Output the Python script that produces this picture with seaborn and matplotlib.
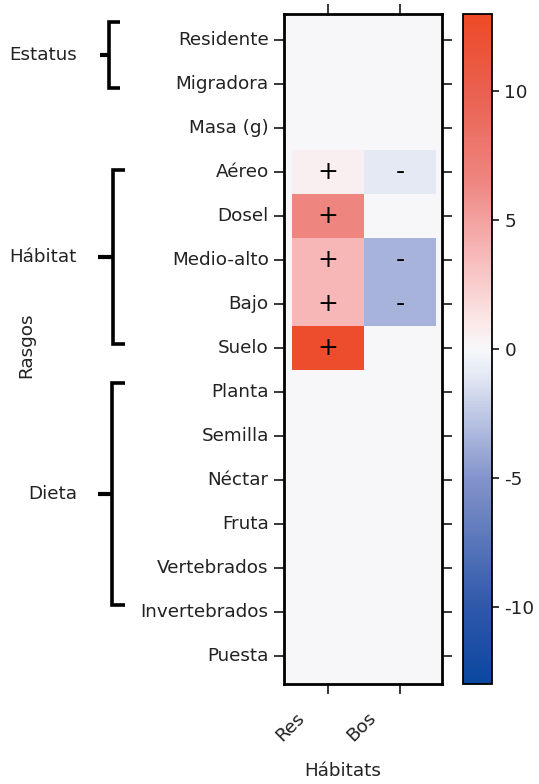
import numpy as np
import pandas as pd
import seaborn as sns
import matplotlib.pyplot as plt
from matplotlib.colors import LinearSegmentedColormap
from matplotlib.transforms import ScaledTranslation, blended_transform_factory

sns.set_theme(style="white")
plt.rcParams['font.family'] = ['DejaVu Sans']

# Traits (rows) and habitats (columns)
rasgos = ["Residente", "Migradora", "Masa (g)", "Aéreo", "Dosel", "Medio-alto",
          "Bajo", "Suelo", "Planta", "Semilla", "Néctar", "Fruta",
          "Vertebrados", "Invertebrados", "Puesta"]
habitats = ["Res", "Bos"]

# Effect sizes per habitat
res_vals = [0, 0, 0, 0.6, 6.5, 3.7, 3.7, 12.5, 0, 0, 0, 0, 0, 0, 0]
bos_vals = [0, 0, 0, -1.0, 0, -3.5, -3.5, 0, 0, 0, 0, 0, 0, 0, 0]

# Sign labels shown in the cells
res_signs = ["", "", "", "+", "+", "+", "+", "+", "", "", "", "", "", "", ""]
bos_signs = ["", "", "", "-", "", "-", "-", "", "", "", "", "", "", "", ""]

# Trait groups: name and bracket extent in row units
grupos = ["Estatus", "Hábitat", "Dieta"]
grupo_inicio = [0.1, 3.45, 8.3]
grupo_fin = [1.6, 7.4, 13.35]

cbar_ticks = [-10, -5, 0, 5, 10]
vlim = 13

df = pd.DataFrame({"Res": res_vals, "Bos": bos_vals}, index=rasgos)
annot = pd.DataFrame({"Res": res_signs, "Bos": bos_signs}, index=rasgos)

cmap = LinearSegmentedColormap.from_list(
    "rb",
    [(0.000, "#0b47a0"), (0.115, "#2f58aa"), (0.308, "#8494cb"),
     (0.365, "#a7b3db"), (0.462, "#e4e9f4"), (0.500, "#f7f8fa"),
     (0.538, "#fbe9e9"), (0.642, "#f7b8b8"), (0.692, "#f3a2a0"),
     (0.750, "#ef8680"), (0.885, "#e9604f"), (1.000, "#ee4a27")])

W, H = 539, 784
fig = plt.figure(figsize=(W / 100, H / 100), dpi=100)

def fx(px):
    return px / W

def fy(py):
    return 1 - py / H

ax = fig.add_axes([fx(284), fy(684), fx(442) - fx(284), fy(14) - fy(684)])
cax = fig.add_axes([fx(463), fy(684), fx(492) - fx(463), fy(14) - fy(684)])

sns.heatmap(df, ax=ax, cbar_ax=cax, cmap=cmap, vmin=-vlim, vmax=vlim,
            annot=annot, fmt="", annot_kws={"fontsize": 18, "color": "black"},
            linewidths=0)

ax.set_facecolor(cmap(0.5))
ax.set_xlim(-0.11, 2.083)
ax.set_ylim(15.14, -0.09)

for s in ax.spines.values():
    s.set_visible(True)
    s.set_linewidth(2.0)
    s.set_color("black")

txt = "#222222"
fs = 13.2
ax.tick_params(axis="y", which="both", left=True, right=True, direction="out",
               length=7, width=1.1, color="black", pad=4, labelsize=fs,
               labelcolor=txt)
ax.tick_params(axis="x", which="both", bottom=True, top=True, direction="out",
               length=7, width=1.1, color="black", pad=11, labelsize=fs,
               labelcolor=txt)
ax.set_yticklabels(rasgos, rotation=0, ha="right")
ax.set_xticklabels(habitats, rotation=45, ha="right")
for lab in ax.get_xticklabels():
    lab.set_transform(lab.get_transform() + ScaledTranslation(-0.2, 0, fig.dpi_scale_trans))

ax.set_xlabel("Hábitats", fontsize=fs, color=txt, va="center")
ax.xaxis.set_label_coords(0.373, -0.13)
ax.set_ylabel("")

# Colorbar styling
cb = ax.collections[0].colorbar
cb.set_ticks(cbar_ticks)
cb.set_ticklabels([str(t) for t in cbar_ticks])
cb.outline.set_visible(True)
cb.outline.set_linewidth(1.3)
cb.outline.set_edgecolor("black")
cax.tick_params(direction="out", length=5, width=1.1, color="black",
                labelsize=fs, labelcolor=txt, pad=4)

# Group brackets and labels at the left
tr = blended_transform_factory(fig.transFigure, ax.transData)
bracket_x = [109, 113, 112]
hook_x = [120, 125, 125]
nub_x = [100, 98, 98]
for name, y0, y1, xv, xh, xn in zip(grupos, grupo_inicio, grupo_fin, bracket_x, hook_x, nub_x):
    ym = (y0 + y1) / 2
    fig.add_artist(plt.Line2D([fx(xh), fx(xv), fx(xv), fx(xh)], [y0, y0, y1, y1],
                              transform=tr, color="black", lw=2.6,
                              solid_joinstyle="miter", solid_capstyle="butt"))
    fig.add_artist(plt.Line2D([fx(xn), fx(xv)], [ym, ym], transform=tr,
                              color="black", lw=3.0, solid_capstyle="butt"))
    fig.text(fx(77), ym, name, transform=tr, ha="right", va="center",
             fontsize=fs, color=txt)

fig.text(fx(26), 7.45, "Rasgos", transform=tr, rotation=90, ha="center",
         va="center", fontsize=fs, color=txt)

fig.savefig("out.png", dpi=100, facecolor="white")
